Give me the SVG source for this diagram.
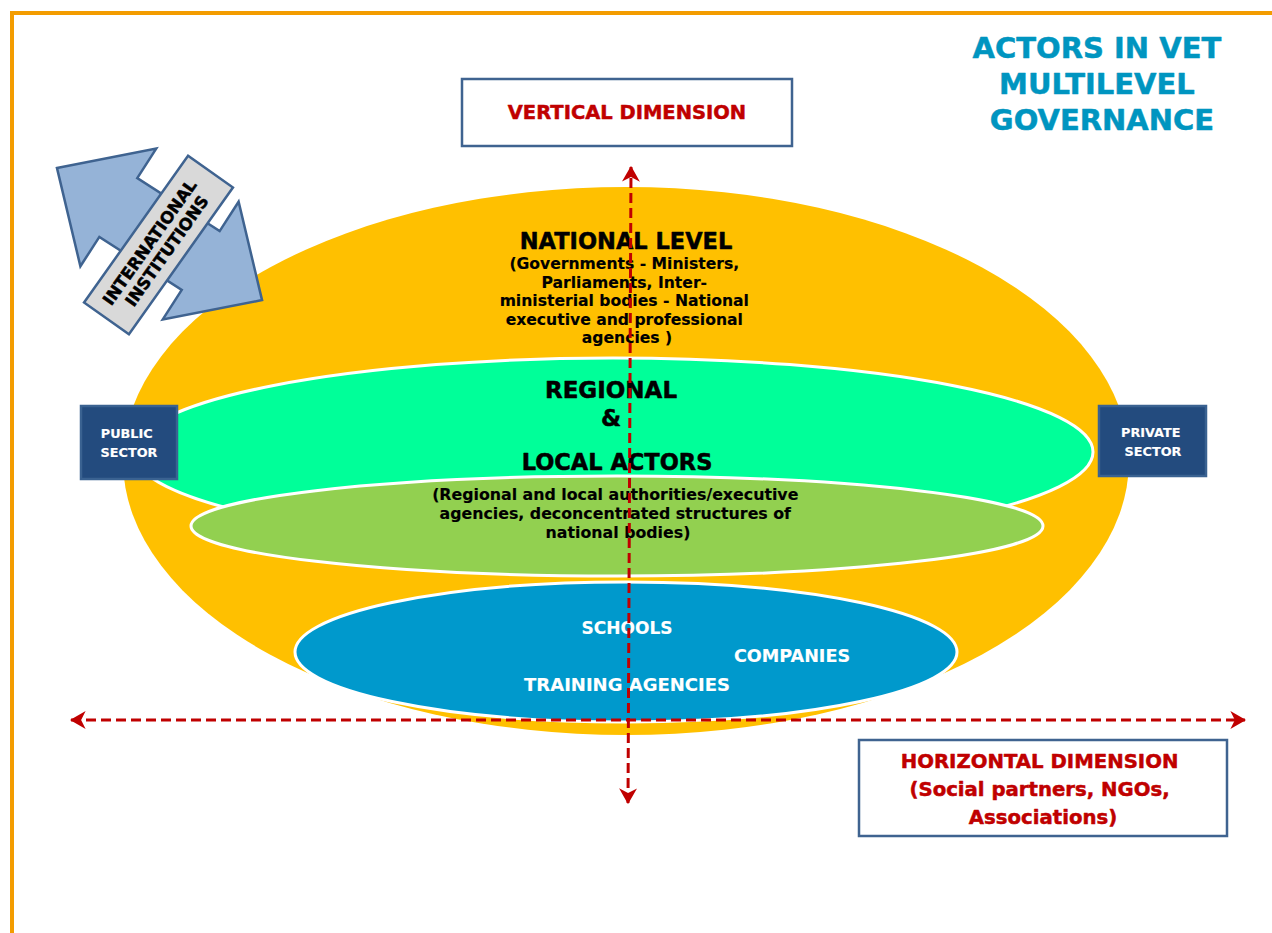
<svg xmlns="http://www.w3.org/2000/svg" width="1272" height="933" viewBox="0 0 1272 933">
<defs>
<style>
.t{font-family:"DejaVu Sans","Liberation Sans",sans-serif;font-weight:bold;text-anchor:middle;stroke-width:0.5;stroke-linejoin:round}
.s{stroke-width:0.15}
.blk{fill:#000;stroke:#000}
.red{fill:#C00000;stroke:#C00000}
.wht{fill:#fff;stroke:#fff}
.ttl{fill:#0095C0;stroke:#0095C0}
.ell{stroke:#fff;stroke-width:3}
.box{fill:#fff;stroke:#3F6390;stroke-width:2.5}
.sec{fill:#234B7E;stroke:#3A6291;stroke-width:2.5}
.dash{fill:none;stroke:#C00000;stroke-width:3;stroke-dasharray:10 5}
</style>
<marker id="ah" viewBox="0 0 14 16" refX="13" refY="8" markerWidth="16" markerHeight="18" markerUnits="userSpaceOnUse" orient="auto">
<path d="M0,0 L14,8 L0,16 L4,8 Z" fill="#C00000"/>
</marker>
<marker id="ahs" viewBox="0 0 14 16" refX="1" refY="8" markerWidth="16" markerHeight="18" markerUnits="userSpaceOnUse" orient="auto">
<path d="M14,0 L0,8 L14,16 L10,8 Z" fill="#C00000"/>
</marker>
</defs>
<rect width="1272" height="933" fill="#fff"/>
<path d="M12,933 L12,13 L1272,13" fill="none" stroke="#F39C00" stroke-width="4"/>

<g id="national-level">
<ellipse cx="626" cy="461" rx="503" ry="274" fill="#FFC000"/>
<text class="t blk" x="626" y="249" font-size="22.5">NATIONAL LEVEL</text>
<text class="t s blk" font-size="15.6">
<tspan x="627" y="269">(Governments - Ministers,</tspan>
<tspan x="627" y="288">Parliaments, Inter-</tspan>
<tspan x="627" y="306">ministerial bodies - National</tspan>
<tspan x="627" y="325">executive and professional</tspan>
<tspan x="627" y="343">agencies )</tspan>
</text>
</g>

<g id="regional-level">
<ellipse class="ell" cx="613" cy="452" rx="480" ry="94" fill="#00FF99"/>
<text class="t blk" x="611" y="398" font-size="23">REGIONAL</text>
<text class="t blk" x="611" y="426" font-size="23">&amp;</text>
<text class="t blk" x="617" y="470" font-size="22.5">LOCAL ACTORS</text>
</g>

<g id="local-level">
<ellipse class="ell" cx="617" cy="526" rx="426" ry="50" fill="#92D050"/>
<text class="t s blk" font-size="15.8">
<tspan x="618" y="500">(Regional and local authorities/executive</tspan>
<tspan x="618" y="519">agencies, deconcentrated structures of</tspan>
<tspan x="618" y="538">national bodies)</tspan>
</text>
</g>

<g id="operational-level">
<ellipse class="ell" cx="626" cy="652" rx="331" ry="70" fill="#0099CC"/>
<text class="t s wht" x="627" y="634" font-size="17">SCHOOLS</text>
<text class="t s wht" x="792" y="662" font-size="17.6">COMPANIES</text>
<text class="t s wht" x="627" y="691" font-size="18">TRAINING AGENCIES</text>
</g>

<g id="connectors">
<line class="dash" x1="628" y1="803" x2="631" y2="167" marker-start="url(#ahs)" marker-end="url(#ah)"/>
<line class="dash" x1="71" y1="720" x2="1245" y2="720" marker-start="url(#ahs)" marker-end="url(#ah)"/>
</g>

<g id="vertical-dimension">
<rect class="box" x="462" y="79" width="330" height="67"/>
<text class="t red" x="627" y="119" font-size="19.5">VERTICAL DIMENSION</text>
</g>

<g id="horizontal-dimension">
<rect class="box" x="859" y="740" width="368" height="96"/>
<text class="t red" font-size="19.7">
<tspan x="1043" y="768">HORIZONTAL DIMENSION</tspan>
<tspan x="1043" y="796">(Social partners, NGOs,</tspan>
<tspan x="1043" y="824">Associations)</tspan>
</text>
</g>

<g id="title">
<text class="t ttl" font-size="29">
<tspan x="1102" y="58">ACTORS IN VET</tspan>
<tspan x="1102" y="94">MULTILEVEL</tspan>
<tspan x="1102" y="130">GOVERNANCE</tspan>
</text>
</g>

<g id="public-sector">
<rect class="sec" x="81" y="406" width="96" height="73"/>
<text class="t s wht" font-size="12.8">
<tspan x="129" y="438">PUBLIC</tspan>
<tspan x="129" y="457">SECTOR</tspan>
</text>
</g>

<g id="private-sector">
<rect class="sec" x="1099" y="406" width="107" height="70"/>
<text class="t s wht" font-size="12.8">
<tspan x="1153" y="437">PRIVATE</tspan>
<tspan x="1153" y="456">SECTOR</tspan>
</text>
</g>

<g id="international-institutions">
<polygon transform="translate(159.5,234) rotate(32.8)" points="-122,0 -49,-70 -49,-35 49,-35 49,-70 122,0 49,70 49,35 -49,35 -49,70" fill="#95B3D7" stroke="#3F6390" stroke-width="2.5" stroke-linejoin="miter"/>
<g transform="translate(158.5,245) rotate(-54.7)">
<rect x="-90" y="-27.5" width="180" height="55" fill="#D9D9D9" stroke="#3F6390" stroke-width="2.5"/>
<text class="t blk" font-size="16.5" stroke-width="0.3">
<tspan x="0" y="-3">INTERNATIONAL</tspan>
<tspan x="0" y="16">INSTITUTIONS</tspan>
</text>
</g>
</g>
</svg>
